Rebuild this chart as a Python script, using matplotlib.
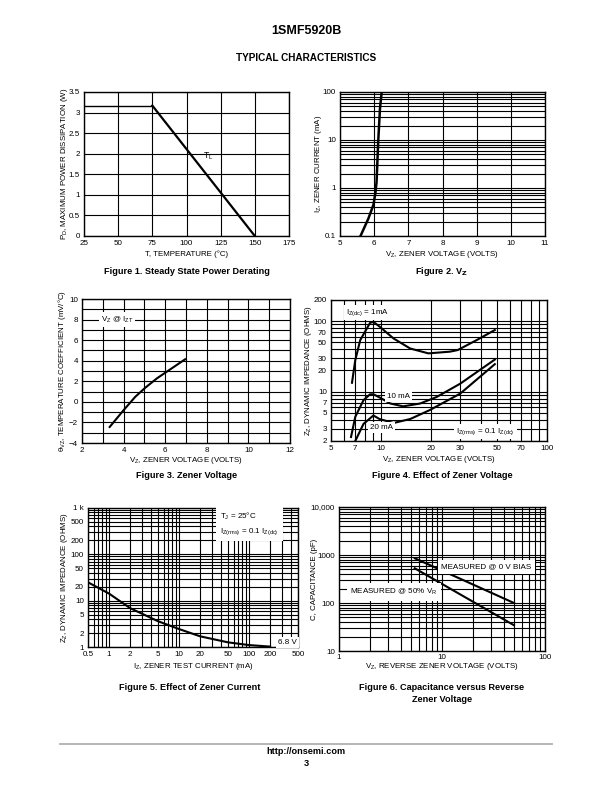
import matplotlib
matplotlib.use("Agg")
import matplotlib.pyplot as plt
from matplotlib.ticker import FixedLocator, NullFormatter, LogLocator, MultipleLocator, FixedFormatter

plt.rcParams['font.family'] = ['Liberation Sans', 'DejaVu Sans']
plt.rcParams['mathtext.fontset'] = 'custom'
plt.rcParams['mathtext.rm'] = 'Liberation Sans'
plt.rcParams['mathtext.it'] = 'Liberation Sans'

# ---- data ----
# Fig 1
T_temp = [25, 75, 150]
PD_w = [3.17, 3.17, 0.0]
# Fig 2
VZ2 = [5.6, 5.83, 5.98, 6.04, 6.07, 6.12, 6.17, 6.22]
IZ2 = [0.1, 0.23, 0.45, 0.83, 1.33, 9.8, 45, 100]
# Fig 3
VZ3 = [3.33, 4.0, 4.56, 5.04, 5.6, 6.0, 6.96]
TC3 = [-2.44, -0.81, 0.49, 1.37, 2.28, 2.83, 4.14]
# Fig 4
VZ4_1 = [6.69, 7.0, 7.5, 8.6, 9.0, 9.8, 11.9, 15, 19.3, 26, 29, 37.7, 48.5]
ZZ4_1 = [13.4, 28, 54, 95, 98, 84, 57, 41, 35, 37, 39, 54, 75]
VZ4_10 = [6.6, 7.0, 7.85, 8.6, 9.0, 9.8, 11.4, 13.6, 17.2, 21.6, 30, 48.5]
ZZ4_10 = [2.28, 4.4, 7.6, 9.2, 9.2, 8.3, 6.8, 6.2, 6.8, 8.4, 13, 28.6]
VZ4_20 = [7.0, 7.85, 9.0, 9.8, 11.9, 15, 19.7, 30, 48.5]
ZZ4_20 = [2.0, 3.5, 4.6, 4.1, 3.6, 4.1, 5.5, 9.4, 24.6]
# Fig 5
IZ5 = [0.5, 1, 2, 5, 10, 20, 50, 100, 200]
ZZ5 = [24.9, 14.2, 6.9, 3.6, 2.44, 1.7, 1.26, 1.1, 1.02]
# Fig 6
VZ6 = [5.44, 50]
C6_0V = [855, 100]
C6_50 = [528, 34.4]

# tick labels
fig4_xticks = [5, 7, 10, 20, 30, 50, 70, 100]
fig4_yticks = [2, 3, 5, 7, 10, 20, 30, 50, 70, 100, 200]
fig5_xticks = [0.5, 1, 2, 5, 10, 20, 50, 100, 200, 500]
fig5_yticks = [1, 2, 5, 10, 20, 50, 100, 200, 500, 1000]
fig5_ylabels = ['1', '2', '5', '10', '20', '50', '100', '200', '500', '1 k']
fig6_xticks = [1, 10, 100]
fig6_yticks = [10, 100, 1000, 10000]
fig6_ylabels = ['10', '100', '1000', '10,000']

W, H = 612, 792
fig = plt.figure(figsize=(W / 100, H / 100), dpi=100)

BOX = {}

def add_ax(x0, y0, x1, y1):
    ax = fig.add_axes([x0 / W, 1 - y1 / H, (x1 - x0) / W, (y1 - y0) / H])
    BOX[ax] = (x0, y0, x1, y1)
    return ax

TICK_FS = 5.8
LAB_FS = 5.7
GRID = dict(color='black', linewidth=0.8)

def style(ax):
    for s in ax.spines.values():
        s.set_linewidth(1.0)
    ax.tick_params(which='both', length=0, labelsize=TICK_FS, pad=3)
    ax.set_axisbelow(True)

def labels(ax, xl, yl, xly, ylx):
    x0, y0, x1, y1 = BOX[ax]
    ax.set_xlabel(xl, fontsize=LAB_FS, va='center')
    ax.set_ylabel(yl, fontsize=LAB_FS, va='center')
    ax.xaxis.set_label_coords(0.5, (y1 - xly) / (y1 - y0))
    ax.yaxis.set_label_coords((ylx - x0) / (x1 - x0), 0.5)

bbox_w = dict(facecolor='white', edgecolor='none', pad=1.5)

# ---- Figure 1 ----
ax1 = add_ax(84, 92, 289, 236)
style(ax1)
ax1.set_xlim(25, 175)
ax1.set_ylim(0, 3.5)
ax1.xaxis.set_major_locator(MultipleLocator(25))
ax1.set_yticks([0, 0.5, 1, 1.5, 2, 2.5, 3, 3.5])
ax1.set_yticklabels(['0', '0.5', '1', '1.5', '2', '2.5', '3', '3.5'])
ax1.grid(True, which='major', **GRID)
ax1.plot(T_temp[:2], PD_w[:2], color='black', lw=1.0)
ax1.plot(T_temp[1:], PD_w[1:], color='black', lw=1.6)
ax1.text(112, 1.95, r'T$_\mathregular{L}$', fontsize=6.2, ha='left', va='center')
labels(ax1, 'T, TEMPERATURE (°C)', r'P$_\mathregular{D}$, MAXIMUM POWER DISSIPATION (W)', 254, 64)

# ---- Figure 2 ----
ax2 = add_ax(340, 92, 545, 236)
style(ax2)
ax2.set_yscale('log')
ax2.set_xlim(5, 11)
ax2.set_ylim(0.1, 100)
ax2.xaxis.set_major_locator(MultipleLocator(1))
ax2.yaxis.set_major_locator(FixedLocator([0.1, 1, 10, 100]))
ax2.yaxis.set_major_formatter(FixedFormatter(['0.1', '1', '10', '100']))
ax2.yaxis.set_minor_locator(LogLocator(base=10, subs=range(2, 10)))
ax2.yaxis.set_minor_formatter(NullFormatter())
ax2.grid(True, which='both', **GRID)
ax2.plot(VZ2, IZ2, color='black', lw=1.8)
labels(ax2, r'V$_\mathregular{Z}$, ZENER VOLTAGE (VOLTS)', r'I$_\mathregular{Z}$, ZENER CURRENT (mA)', 254, 319)

# ---- Figure 3 ----
ax3 = add_ax(82, 299, 290, 443)
style(ax3)
ax3.set_xlim(2, 12)
ax3.set_ylim(-4, 10)
ax3.xaxis.set_major_locator(MultipleLocator(2))
ax3.xaxis.set_minor_locator(MultipleLocator(1))
ax3.yaxis.set_major_locator(MultipleLocator(2))
ax3.yaxis.set_minor_locator(MultipleLocator(1))
ax3.yaxis.set_major_formatter(plt.FuncFormatter(lambda v, p: f'{int(round(v))}'.replace('-', '\u2212')))
ax3.grid(True, which='both', **GRID)
ax3.plot(VZ3, TC3, color='black', lw=1.5)
ax3.text(0.09, 0.857, r'V$_\mathregular{Z}$ @ I$_\mathregular{ZT}$', transform=ax3.transAxes,
         fontsize=5.8, ha='left', va='center', bbox=bbox_w)
labels(ax3, r'V$_\mathregular{Z}$, ZENER VOLTAGE (VOLTS)',
       r'θ$_\mathregular{VZ}$, TEMPERATURE COEFFICIENT (mV/°C)', 461, 62)

# ---- Figure 4 ----
ax4 = add_ax(331, 300, 547, 441)
style(ax4)
ax4.set_xscale('log')
ax4.set_yscale('log')
ax4.set_xlim(5, 100)
ax4.set_ylim(2, 200)
ax4.xaxis.set_major_locator(FixedLocator(fig4_xticks))
ax4.xaxis.set_major_formatter(FixedFormatter([str(v) for v in fig4_xticks]))
ax4.xaxis.set_minor_locator(LogLocator(base=10, subs=range(1, 10)))
ax4.xaxis.set_minor_formatter(NullFormatter())
ax4.yaxis.set_major_locator(FixedLocator(fig4_yticks))
ax4.yaxis.set_major_formatter(FixedFormatter([str(v) for v in fig4_yticks]))
ax4.yaxis.set_minor_locator(LogLocator(base=10, subs=range(1, 10)))
ax4.yaxis.set_minor_formatter(NullFormatter())
ax4.grid(True, which='both', **GRID)
ax4.plot(VZ4_1, ZZ4_1, color='black', lw=1.5)
ax4.plot(VZ4_10, ZZ4_10, color='black', lw=1.5)
ax4.plot(VZ4_20, ZZ4_20, color='black', lw=1.5)
ax4.text(0.07, 0.912, r'I$_\mathregular{Z(dc)}$ = 1mA', transform=ax4.transAxes,
         fontsize=5.8, ha='left', va='center', bbox=bbox_w)
ax4.text(0.26, 0.318, '10 mA', transform=ax4.transAxes,
         fontsize=5.8, ha='left', va='center', bbox=bbox_w)
ax4.text(0.18, 0.095, '20 mA', transform=ax4.transAxes,
         fontsize=5.8, ha='left', va='center', bbox=bbox_w)
ax4.text(0.58, 0.068, r'I$_\mathregular{Z(rms)}$ = 0.1 I$_\mathregular{Z(dc)}$', transform=ax4.transAxes,
         fontsize=5.8, ha='left', va='center', bbox=bbox_w)
labels(ax4, r'V$_\mathregular{Z}$, ZENER VOLTAGE (VOLTS)',
       r'Z$_\mathregular{Z}$, DYNAMIC IMPEDANCE (OHMS)', 460, 308)

# ---- Figure 5 ----
ax5 = add_ax(88, 508, 298, 647)
style(ax5)
ax5.set_xscale('log')
ax5.set_yscale('log')
ax5.set_xlim(0.5, 500)
ax5.set_ylim(1, 1000)
ax5.xaxis.set_major_locator(FixedLocator(fig5_xticks))
ax5.xaxis.set_major_formatter(FixedFormatter([str(v) for v in fig5_xticks]))
ax5.xaxis.set_minor_locator(LogLocator(base=10, subs=range(1, 10)))
ax5.xaxis.set_minor_formatter(NullFormatter())
ax5.yaxis.set_major_locator(FixedLocator(fig5_yticks))
ax5.yaxis.set_major_formatter(FixedFormatter(fig5_ylabels))
ax5.yaxis.set_minor_locator(LogLocator(base=10, subs=range(1, 10)))
ax5.yaxis.set_minor_formatter(NullFormatter())
ax5.grid(True, which='both', **GRID)
ax5.plot(IZ5, ZZ5, color='black', lw=1.5)
ax5.text(0.63, 0.885, r'T$_\mathregular{J}$ = 25°C' + '\n' + r'I$_\mathregular{Z(rms)}$ = 0.1 I$_\mathregular{Z(dc)}$',
         transform=ax5.transAxes, fontsize=5.8, ha='left', va='center', linespacing=1.7,
         bbox=dict(facecolor='white', edgecolor='none', pad=3))
ax5.text(0.905, 0.035, '6.8 V', transform=ax5.transAxes,
         fontsize=5.8, ha='left', va='center', bbox=bbox_w)
labels(ax5, r'I$_\mathregular{Z}$, ZENER TEST CURRENT (mA)',
       r'Z$_\mathregular{Z}$, DYNAMIC IMPEDANCE (OHMS)', 666, 64)

# ---- Figure 6 ----
ax6 = add_ax(339, 507, 545, 651)
style(ax6)
ax6.tick_params(axis='x', pad=2)
ax6.set_xscale('log')
ax6.set_yscale('log')
ax6.set_xlim(1, 100)
ax6.set_ylim(10, 10000)
ax6.xaxis.set_major_locator(FixedLocator(fig6_xticks))
ax6.xaxis.set_major_formatter(FixedFormatter([str(v) for v in fig6_xticks]))
ax6.xaxis.set_minor_locator(LogLocator(base=10, subs=range(1, 10)))
ax6.xaxis.set_minor_formatter(NullFormatter())
ax6.yaxis.set_major_locator(FixedLocator(fig6_yticks))
ax6.yaxis.set_major_formatter(FixedFormatter(fig6_ylabels))
ax6.yaxis.set_minor_locator(LogLocator(base=10, subs=range(1, 10)))
ax6.yaxis.set_minor_formatter(NullFormatter())
ax6.grid(True, which='both', **GRID)
ax6.plot(VZ6, C6_0V, color='black', lw=1.5)
ax6.plot(VZ6, C6_50, color='black', lw=1.5)
ax6.text(0.495, 0.584, 'MEASURED @ 0 V BIAS', transform=ax6.transAxes,
         fontsize=5.8, ha='left', va='center', bbox=dict(facecolor='white', edgecolor='none', pad=2.5))
ax6.text(0.055, 0.41, r'MEASURED @ 50% V$_\mathregular{R}$', transform=ax6.transAxes,
         fontsize=5.8, ha='left', va='center', bbox=dict(facecolor='white', edgecolor='none', pad=2.5))
labels(ax6, r'V$_\mathregular{Z}$, REVERSE ZENER VOLTAGE (VOLTS)', 'C, CAPACITANCE (pF)', 667, 315)

# ---- page text ----
def ftext(x, y, s, **kw):
    fig.text(x / W, 1 - y / H, s, ha='center', va='center', **kw)

ftext(306, 31, '1SMF5920B', fontsize=9, fontweight='bold')
ftext(306, 58, 'TYPICAL CHARACTERISTICS', fontsize=7.2, fontweight='bold')
ftext(187, 271, 'Figure 1. Steady State Power Derating', fontsize=6.6, fontweight='bold')
ftext(442, 271, r'Figure 2. V$_\mathbf{Z}$', fontsize=6.6, fontweight='bold')
ftext(187, 476, 'Figure 3. Zener Voltage', fontsize=6.6, fontweight='bold')
ftext(442, 476, 'Figure 4. Effect of Zener Voltage', fontsize=6.6, fontweight='bold')
ftext(190, 687, 'Figure 5. Effect of Zener Current', fontsize=6.6, fontweight='bold')
ftext(442, 687, 'Figure 6. Capacitance versus Reverse', fontsize=6.6, fontweight='bold')
ftext(442, 700, 'Zener Voltage', fontsize=6.6, fontweight='bold')
fig.add_artist(plt.Line2D([60 / W, 552 / W], [1 - 744 / H, 1 - 744 / H], color='#b0b0b0', lw=1.3))
ftext(306, 752, 'http://onsemi.com', fontsize=6.6, fontweight='bold')
ftext(306, 763, '3', fontsize=6.6, fontweight='bold')

fig.savefig('out.png', dpi=100)
